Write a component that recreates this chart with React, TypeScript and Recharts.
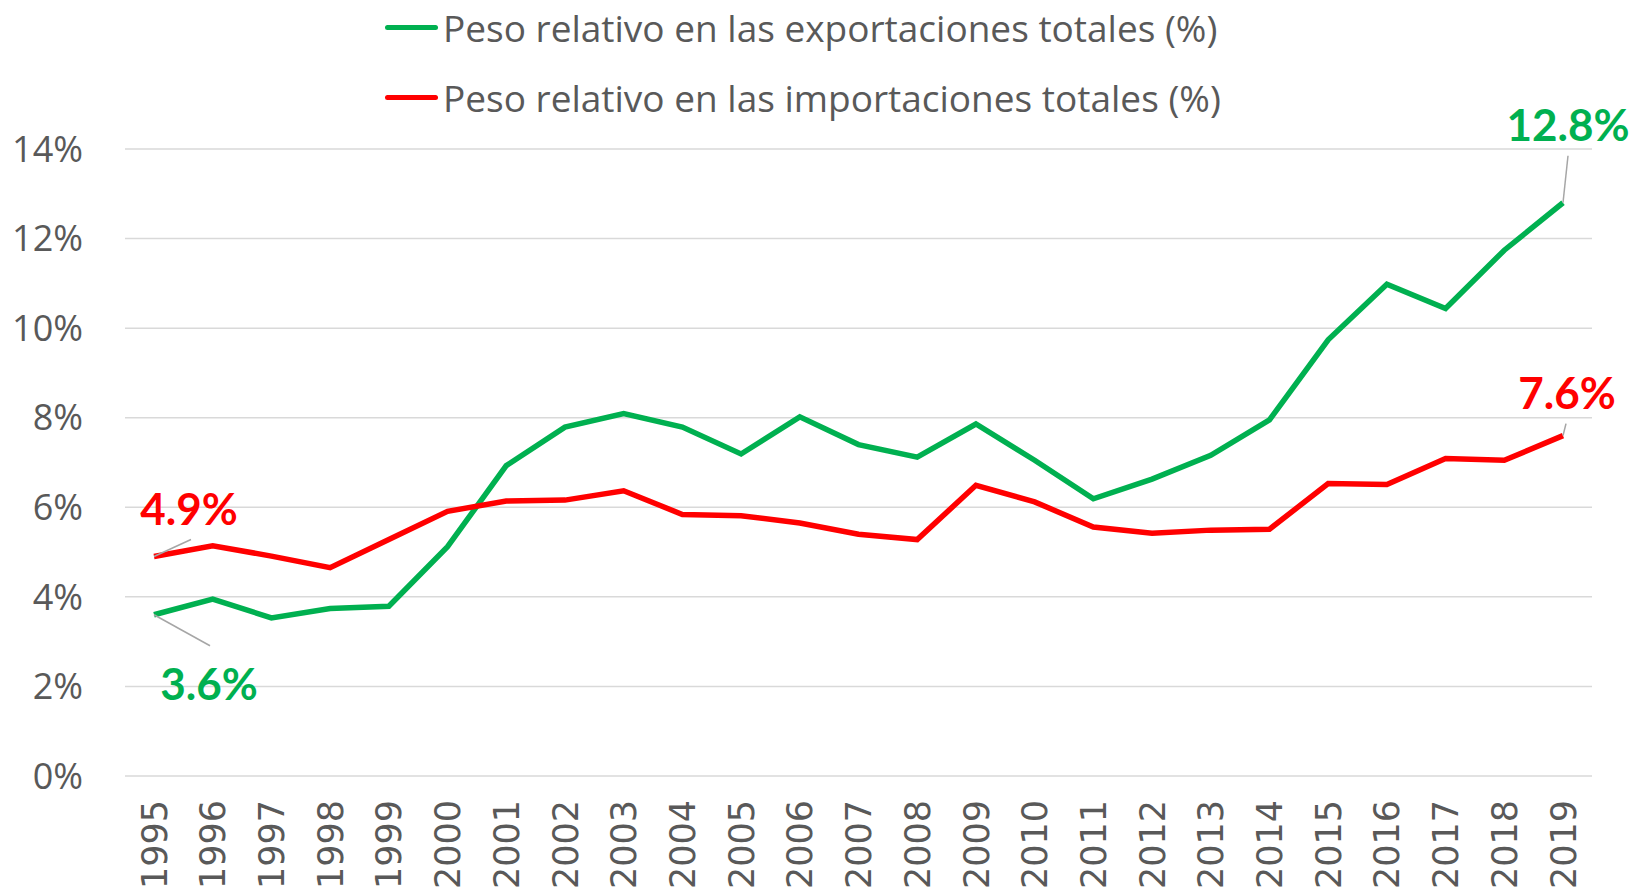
import React from 'react';
import { LineChart, Line, XAxis, YAxis, CartesianGrid, Legend } from 'recharts';

const YEARS = [
  '1995', '1996', '1997', '1998', '1999', '2000', '2001', '2002', '2003', '2004', '2005', '2006', '2007',
  '2008', '2009', '2010', '2011', '2012', '2013', '2014', '2015', '2016', '2017', '2018', '2019',
];
const EXPORTS = [
  3.6, 3.95, 3.53, 3.74, 3.79, 5.12, 6.93, 7.79, 8.09, 7.79, 7.19, 8.02, 7.4,
  7.12, 7.86, 7.05, 6.19, 6.63, 7.16, 7.95, 9.74, 10.98, 10.44, 11.74, 12.8,
];
const IMPORTS = [
  4.9, 5.14, 4.91, 4.65, 5.28, 5.91, 6.14, 6.16, 6.37, 5.84, 5.81, 5.65, 5.4,
  5.28, 6.49, 6.12, 5.56, 5.42, 5.49, 5.51, 6.53, 6.51, 7.09, 7.05, 7.6,
];
const Y_TICKS = [0, 2, 4, 6, 8, 10, 12, 14];
const EXP_NAME = 'Peso relativo en las exportaciones totales (%)';
const IMP_NAME = 'Peso relativo en las importaciones totales (%)';

const GREEN = '#00B050';
const RED = '#FF0000';
const GREY_TEXT = '#595959';
const FONT = '"Open Sans", Lato, sans-serif';

const data = YEARS.map((year, i) => ({ year, exp: EXPORTS[i], imp: IMPORTS[i] }));

// label offsets: [lineEndDx, lineEndDy, textDx, textDy]
const makeLabel = (color: string, offsets: Record<number, number[]>) => (props: any) => {
  const { x, y, index, value } = props;
  const o = offsets[index];
  if (!o) return null;
  return (
    <g key={`lbl-${index}`}>
      <line x1={x} y1={y} x2={x + o[0]} y2={y + o[1]} stroke="#A6A6A6" strokeWidth={1.5} />
      <text
        x={x + o[2]}
        y={y + o[3]}
        fill={color}
        fontFamily="Lato, sans-serif"
        fontWeight={700}
        fontSize={44}
        textAnchor="middle"
        dominantBaseline="central"
      >
        {`${value.toFixed(1)}%`}
      </text>
    </g>
  );
};

const expLabel = makeLabel(GREEN, { 0: [56, 31, 55, 68], 24: [5, -47, 5, -79] });
const impLabel = makeLabel(RED, { 0: [37, -17, 35, -49], 24: [3, -12, 4, -44] });

const XTick = (props: any) => {
  const { x, y, payload } = props;
  return (
    <text
      transform={`translate(${x}, ${y + 16}) rotate(-90)`}
      textAnchor="end"
      dy="0.36em"
      fill={GREY_TEXT}
      fontFamily='"DejaVu Sans", sans-serif'
      fontSize={35}
    >
      {payload.value}
    </text>
  );
};

const LegendContent = () => (
  <div style={{ position: 'absolute', left: 385, top: 0, fontFamily: FONT, color: GREY_TEXT }}>
    {[
      { c: GREEN, t: EXP_NAME },
      { c: RED, t: IMP_NAME },
    ].map((it, i) => (
      <div key={i} style={{ display: 'flex', alignItems: 'center', height: 54, marginTop: i === 0 ? 0 : 16 }}>
        <span style={{ width: 53, height: 5, borderRadius: 3, background: it.c, marginRight: 5 }} />
        <span style={{ fontSize: 37, whiteSpace: 'nowrap' }}>{it.t}</span>
      </div>
    ))}
  </div>
);

export default function App() {
  return (
    <div style={{ position: 'absolute', left: 0, top: 0, width: 1634, height: 890, background: '#fff' }}>
      <LineChart width={1634} height={890} data={data} margin={{ top: 149, right: 42, left: 0, bottom: 0 }}>
        <CartesianGrid vertical={false} stroke="#D9D9D9" strokeWidth={1.5} />
        <XAxis
          dataKey="year"
          axisLine={false}
          tickLine={false}
          height={114}
          interval={0}
          padding={{ left: 29, right: 29 }}
          tick={<XTick />}
        />
        <YAxis
          domain={[0, 14]}
          ticks={Y_TICKS}
          axisLine={false}
          tickLine={false}
          tickSize={0}
          tickMargin={42}
          width={125}
          tickFormatter={(v: number) => `${v}%`}
          tick={{ fill: GREY_TEXT, fontSize: 36, fontFamily: FONT }}
        />
        <Legend verticalAlign="top" content={<LegendContent />} wrapperStyle={{ top: 0, left: 0 }} />
        <Line
          dataKey="exp"
          name={EXP_NAME}
          stroke={GREEN}
          strokeWidth={5.5}
          dot={false}
          activeDot={false}
          isAnimationActive={false}
          label={expLabel}
        />
        <Line
          dataKey="imp"
          name={IMP_NAME}
          stroke={RED}
          strokeWidth={5.5}
          dot={false}
          activeDot={false}
          isAnimationActive={false}
          label={impLabel}
        />
      </LineChart>
    </div>
  );
}
